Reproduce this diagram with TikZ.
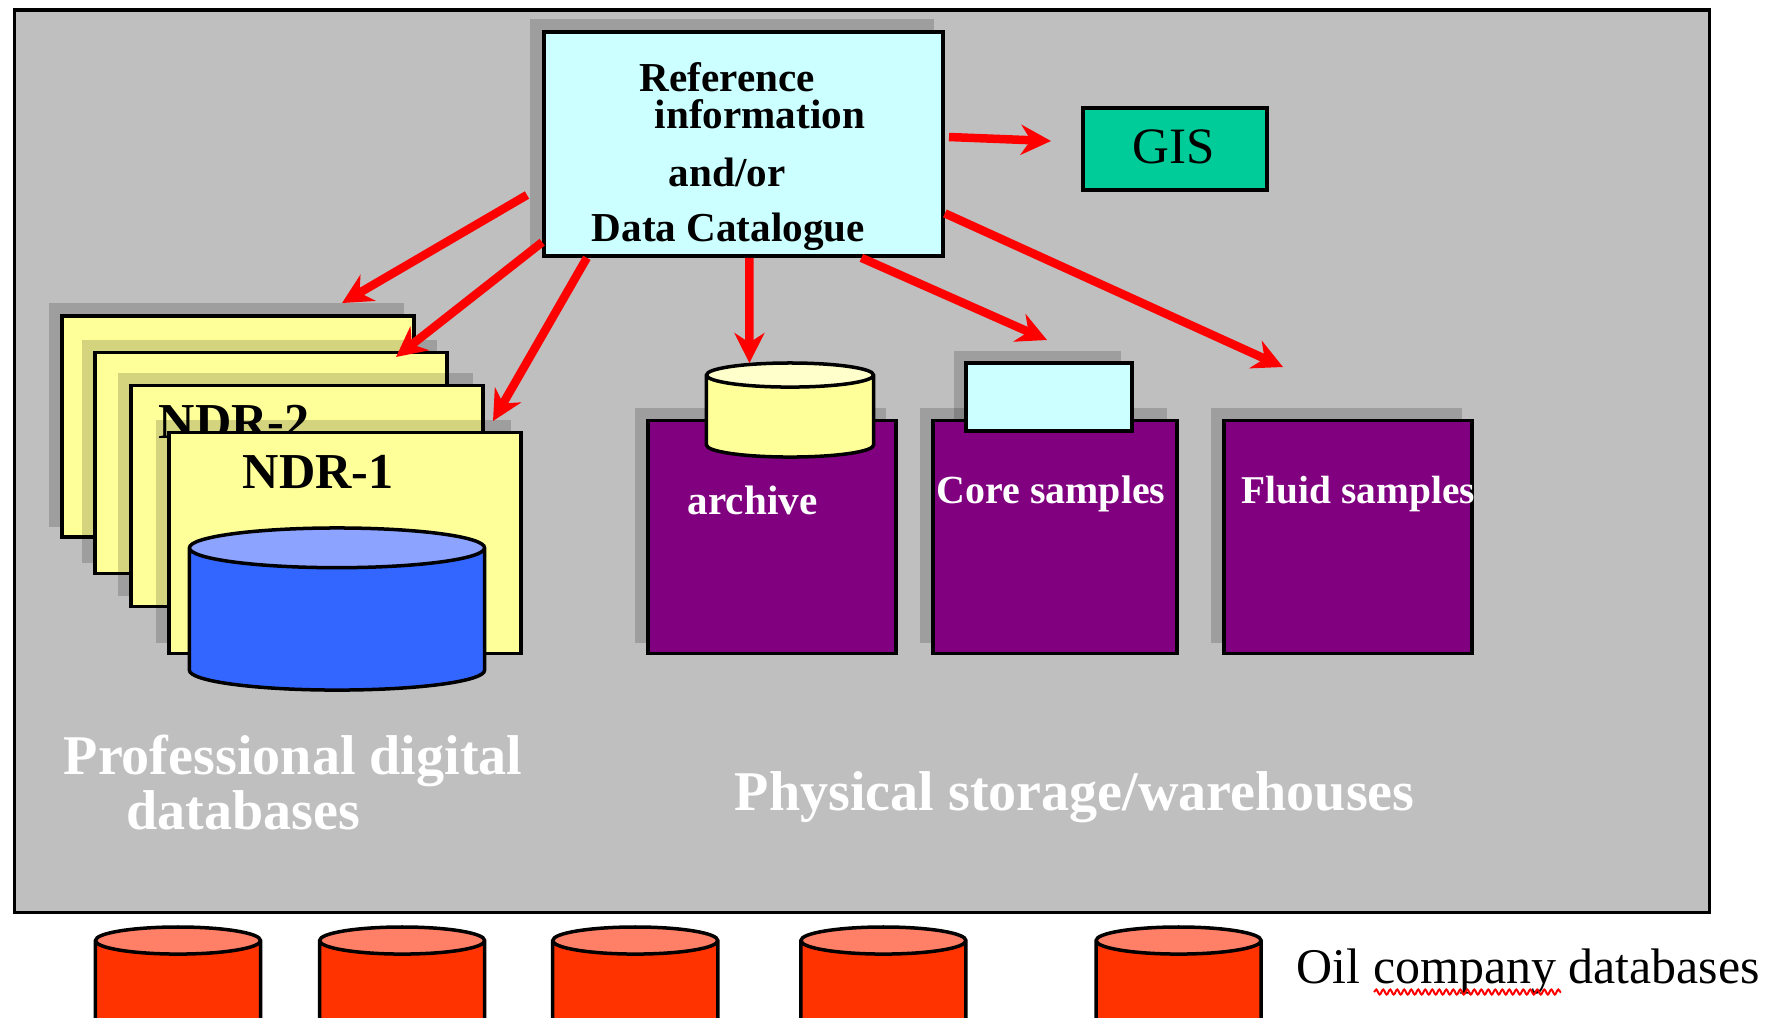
\documentclass[tikz,border=0pt]{standalone}
\usepackage{fontspec}
\setmainfont{Liberation Serif}
\usepackage{tikz}
\usetikzlibrary{arrows.meta}
\usetikzlibrary{positioning}
\usetikzlibrary{shadows}
\usetikzlibrary{shapes.geometric}
\usetikzlibrary{decorations.pathmorphing}
\definecolor{panelgray}{RGB}{191,191,191}
\definecolor{cardyellow}{RGB}{255,255,153}
\definecolor{lightcyan}{RGB}{204,255,255}
\definecolor{gisgreen}{RGB}{0,204,153}
\definecolor{storepurple}{RGB}{128,0,128}
\definecolor{dbblue}{RGB}{51,102,255}
\definecolor{dbtop}{RGB}{140,163,255}
\definecolor{oilred}{RGB}{255,51,0}
\definecolor{oiltop}{RGB}{255,128,102}
\definecolor{archtop}{RGB}{255,255,204}

\begin{document}
\begin{tikzpicture}[
            x = 0.01cm,
            y = -0.01cm,
            > = {Stealth[length = 0.3cm, width = 0.3cm]}, % arrow head style
            line width = 0.035cm,
            node distance = 2.24cm
        ]

        \tikzstyle{boxed}=[
            draw = black,
            rectangle,
            inner sep = 0pt
        ]
        \tikzstyle{shadowed}=[
            drop shadow = {shadow xshift = -0.115cm, shadow yshift = 0.115cm, shadow scale = 1.01, opacity = 0.17, fill = black}
        ]
        \tikzstyle{card}=[boxed, shadowed, fill = cardyellow, minimum width = 3.52cm, minimum height = 2.21cm]
        \tikzstyle{store}=[boxed, shadowed, fill = storepurple, minimum height = 2.33cm]
        \tikzstyle{barrel}=[
            draw = black,
            cylinder,
            anchor = shape center,
            shape border rotate = 90,
            cylinder uses custom fill,
            inner ysep = 0pt
        ]
        \tikzstyle{oilbarrel}=[
            barrel,
            cylinder body fill = oilred,
            cylinder end fill = oiltop,
            inner xsep = 0.82cm,
            shape aspect = 0.165,
            minimum width = 1.65cm,
            minimum height = 1.1cm
        ]
        \tikzstyle{redarrow}=[->, red, line width = 0.085cm]
        \tikzstyle{txt}=[anchor = base west, inner sep = 0pt]
        \tikzstyle{boldtxt}=[txt, font = \fontsize{11.7}{14}\selectfont\bfseries]
        \tikzstyle{whitetxt}=[boldtxt, text = white]
        \tikzstyle{bigtxt}=[txt, text = white, font = \fontsize{15.95}{18}\selectfont\bfseries]
        \tikzstyle{ndrtxt}=[txt, font = \fontsize{14.3}{16}\selectfont\bfseries]

        \clip (0,0) rectangle (1774,1017);
        \path[use as bounding box] (0,0) rectangle (1774,1017);

        % panel
        \node[boxed, fill = panelgray, minimum width = 16.94cm, minimum height = 9.02cm] (panel) at (862,461) {};

        % catalogue and gis
        \node[boxed, shadowed, fill = lightcyan, minimum width = 3.99cm, minimum height = 2.24cm] (catalogue) at (743.5,144) {};
        \node[boxed, fill = gisgreen, minimum width = 1.84cm, minimum height = 0.82cm] (gis) at (1175,149) {};
        \node[txt, font = \fontsize{14.5}{16}\selectfont] (gistext) at (1131,163) {GIS};

        \node[boldtxt] (reftext) at (638,91) {Reference};
        \node[boldtxt] (infotext) at (653,128) {information};
        \node[boldtxt] (andtext) at (667,186) {and/or};
        \node[boldtxt] (datatext) at (590,241) {Data Catalogue};

        % digital databases
        \node[card] (card4) at (238,426.5) {};
        \node[card] (card3) at (271,463) {};
        \node[card] (card2) at (307,496) {};
        \node[ndrtxt] (ndr2) at (157,438) {NDR-2};
        \node[card] (card1) at (345,543) {};
        \node[ndrtxt] (ndr1) at (241,488) {NDR-1};
        \node[barrel, cylinder body fill = dbblue, cylinder end fill = dbtop, inner xsep = 1.47cm, shape aspect = 0.135, minimum width = 2.95cm, minimum height = 1.62cm] (bluedb) at (337,609) {};

        \node[bigtxt] (proftext) at (62,774) {Professional digital};
        \node[bigtxt] (dbtext) at (125,829) {databases};

        % physical storage
        \node[store, minimum width = 2.48cm] (archive) at (772,537) {};
        \node[store, minimum width = 2.44cm] (core) at (1055,537) {};
        \node[store, minimum width = 2.48cm] (fluid) at (1348,537) {};
        \node[barrel, cylinder body fill = cardyellow, cylinder end fill = archtop, inner xsep = 0.83cm, shape aspect = 0.145, minimum width = 1.67cm, minimum height = 0.94cm] (archivedb) at (790,410) {};
        \node[boxed, shadowed, fill = lightcyan, minimum width = 1.66cm, minimum height = 0.68cm] (corebox) at (1049,397) {};

        \node[whitetxt] (archivetext) at (686,514) {archive};
        \node[whitetxt, font = \fontsize{11.35}{13}\selectfont\bfseries] (coretext) at (935,503) {Core samples};
        \node[whitetxt, font = \fontsize{11.2}{13}\selectfont\bfseries] (fluidtext) at (1240,503) {Fluid samples};
        \node[bigtxt] (phystext) at (733,810) {Physical storage/warehouses};

        % oil company level
        \node[oilbarrel] (oil1) at (178,982) {};
        \node[oilbarrel] (oil2) [right of = oil1] {};
        \node[oilbarrel, node distance = 2.33cm] (oil3) [right of = oil2] {};
        \node[oilbarrel, node distance = 2.48cm] (oil4) [right of = oil3] {};
        \node[oilbarrel, node distance = 2.95cm] (oil5) [right of = oil4] {};
        \node[txt, font = \fontsize{14.2}{16}\selectfont] (oiltext) at (1295,983) {Oil company databases};
        \coordinate (wavya) at (1374,992);
        \coordinate (wavyb) at (1561,992);
        \draw[red, line width = 0.02cm, decorate, decoration = {snake, amplitude = 0.025cm, segment length = 0.07cm}] (wavya) -- (wavyb);

        % free ends
        \coordinate (from1) at (527,195);
        \coordinate (from7) at (949,137);
        \coordinate (tip1) at (342,303);
        \coordinate (tip2) at (396,357);
        \coordinate (tip3) at (493,421);
        \coordinate (tip4) at (749.4,363);
        \coordinate (tip5) at (1047,340);
        \coordinate (tip6) at (1283,367);
        \coordinate (tip7) at (1051,141);

        % arrows
        \path[redarrow] (from1) edge node {} (tip1);
        \path[redarrow] (catalogue.206) edge node {} (tip2);
        \path[redarrow] (catalogue.216) edge node {} (tip3);
        \path[redarrow] (catalogue.273) edge node {} (tip4);
        \path[redarrow] (catalogue.316) edge node {} (tip5);
        \path[redarrow] (catalogue.341) edge node {} (tip6);
        \path[redarrow] (from7) edge node {} (tip7);

\end{tikzpicture}
\end{document}
